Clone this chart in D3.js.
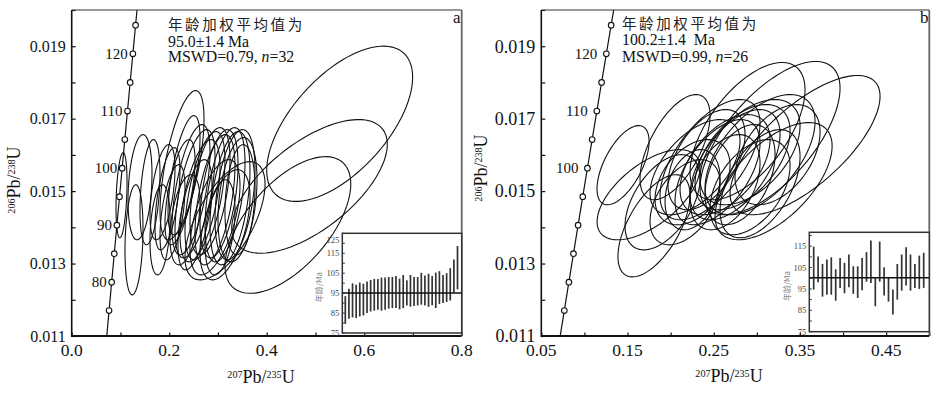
<!DOCTYPE html>
<html>
<head>
<meta charset="utf-8">
<script src="https://cdn.jsdelivr.net/npm/d3@7.9.0/dist/d3.min.js"></script>
<style>
  body { margin: 0; background: #fff; }
  svg { display: block; font-family: "Liberation Serif", "Times New Roman", serif; }
  .cjk { font-family: "Noto Sans CJK SC", sans-serif; }
</style>
</head>
<body>
<svg id="chart" width="947" height="394"></svg>
<script>
// ============= DATA ==================

// concordia: ages (Ma) with 207Pb/235U and 206Pb/238U
const concAges = [70, 75, 80, 85, 90, 95, 100, 105, 110, 115, 120, 125, 130];
const concX = [0.071371, 0.076660, 0.081975, 0.087316, 0.092683, 0.098077, 0.103498, 0.108945, 0.114419, 0.119920, 0.125447, 0.131001, 0.136588];
const concY = [0.010918, 0.011702, 0.012487, 0.013273, 0.014059, 0.014846, 0.015633, 0.016422, 0.017210, 0.018000, 0.018789, 0.019580, 0.020371];
const concMarks = [75, 80, 85, 90, 95, 100, 105, 110, 115, 120, 125];
const concLabelsA = [80, 90, 100, 110, 120];
const concLabelsB = [100, 110, 120];

// axis ticks
const xTicksA = [0, 0.1, 0.2, 0.3, 0.4, 0.5, 0.6, 0.7, 0.8];
const xLabelsA = [0, 0.2, 0.4, 0.6, 0.8];
const xTicksB = [0.05, 0.10, 0.15, 0.20, 0.25, 0.30, 0.35, 0.40, 0.45, 0.50];
const xLabelsB = [0.05, 0.15, 0.25, 0.35, 0.45];
const yTicks = [0.011, 0.012, 0.013, 0.014, 0.015, 0.016, 0.017, 0.018, 0.019, 0.020];
const yLabels = [0.011, 0.013, 0.015, 0.017, 0.019];

// panel a error ellipses: centre, half-extent (x, y), correlation
const ellA_cx = [0.1022, 0.1401, 0.1278, 0.1606, 0.1863, 0.1965, 0.2263, 0.2222, 0.2304, 0.2068, 0.2447, 0.2529, 0.2632, 0.2529, 0.2734, 0.2837, 0.2939, 0.3022, 0.3145, 0.3247, 0.3350, 0.3401, 0.2939, 0.3145, 0.3145, 0.3042, 0.1811, 0.2324, 0.3452, 0.5497, 0.4878, 0.4435];
const ellA_sx = [0.0113, 0.0246, 0.0185, 0.0205, 0.0256, 0.0256, 0.0451, 0.0308, 0.0328, 0.0256, 0.0390, 0.0410, 0.0410, 0.0349, 0.0410, 0.0410, 0.0410, 0.0390, 0.0410, 0.0410, 0.0410, 0.0400, 0.0513, 0.0821, 0.0513, 0.0308, 0.0205, 0.0308, 0.0308, 0.1497, 0.1596, 0.1290];
const ellA_cy = [0.014887, 0.015108, 0.013656, 0.014970, 0.014970, 0.014790, 0.015716, 0.014970, 0.015440, 0.014416, 0.015039, 0.014928, 0.014734, 0.014347, 0.014873, 0.014997, 0.014762, 0.014928, 0.014900, 0.014804, 0.014900, 0.014762, 0.014278, 0.014181, 0.014071, 0.014001, 0.013932, 0.014209, 0.014762, 0.016859, 0.015130, 0.014065];
const ellA_sy = [0.001176, 0.001452, 0.001521, 0.001452, 0.001314, 0.001411, 0.002061, 0.001452, 0.001646, 0.001314, 0.001798, 0.001770, 0.001687, 0.001521, 0.001770, 0.001757, 0.001798, 0.001770, 0.001853, 0.001840, 0.001798, 0.001715, 0.001591, 0.001632, 0.001521, 0.001314, 0.001245, 0.001245, 0.001521, 0.002144, 0.001845, 0.001887];
const ellA_rho = [0.3, 0.25, 0.2, 0.35, 0.5, 0.55, 0.62, 0.6, 0.62, 0.5, 0.58, 0.58, 0.55, 0.55, 0.55, 0.5, 0.52, 0.45, 0.48, 0.42, 0.38, 0.32, 0.55, 0.62, 0.5, 0.35, 0.25, 0.4, 0.22, 0.6, 0.63, 0.6];

// panel b error ellipses
const ellB_cx = [0.1448, 0.1744, 0.1807, 0.1906, 0.2051, 0.2283, 0.2254, 0.2457, 0.2416, 0.2544, 0.2631, 0.2747, 0.2834, 0.2921, 0.2805, 0.3037, 0.3153, 0.2892, 0.3559, 0.3194, 0.3037, 0.2921, 0.2254, 0.3240, 0.2631, 0.2167];
const ellB_sx = [0.0302, 0.0597, 0.0418, 0.0435, 0.0406, 0.0522, 0.0435, 0.0580, 0.0447, 0.0493, 0.0522, 0.0522, 0.0551, 0.0580, 0.0406, 0.0638, 0.0812, 0.0667, 0.0870, 0.0679, 0.0464, 0.0464, 0.0319, 0.0493, 0.0406, 0.0406];
const ellB_cy = [0.015716, 0.014900, 0.014043, 0.014693, 0.016214, 0.015661, 0.015246, 0.015869, 0.015869, 0.015523, 0.015730, 0.015730, 0.015938, 0.016076, 0.015454, 0.016007, 0.016463, 0.016657, 0.016270, 0.015274, 0.015205, 0.015108, 0.015039, 0.016007, 0.015246, 0.014693];
const ellB_sy = [0.001093, 0.001245, 0.001411, 0.001314, 0.001452, 0.001314, 0.001176, 0.001660, 0.001383, 0.001452, 0.001383, 0.001521, 0.001452, 0.001452, 0.001383, 0.001660, 0.002116, 0.001895, 0.001923, 0.001618, 0.001494, 0.001314, 0.001107, 0.001383, 0.001314, 0.001176];
const ellB_rho = [0.6, 0.6, 0.6, 0.5, 0.6, 0.55, 0.4, 0.6, 0.5, 0.55, 0.5, 0.55, 0.5, 0.5, 0.4, 0.55, 0.65, 0.6, 0.7, 0.6, 0.5, 0.45, 0.3, 0.45, 0.4, 0.45];

// inset age bars (Ma)
const agesA_lo = [79.6, 82.1, 82.8, 82.5, 83.3, 83.8, 85.0, 85.8, 86.2, 86.7, 86.2, 86.7, 87.2, 87.5, 87.5, 86.9, 87.5, 88.8, 88.2, 88.6, 88.8, 89.2, 88.8, 88.1, 88.9, 87.5, 89.6, 90.0, 90.6, 91.3, 95.2, 96.9];
const agesA_hi = [93.5, 97.2, 99.9, 99.2, 100.3, 99.7, 100.8, 101.6, 102.1, 102.1, 102.8, 102.8, 103.1, 103.1, 103.6, 102.3, 104.1, 101.4, 104.1, 103.1, 103.1, 105.2, 103.8, 104.7, 103.6, 105.3, 106.0, 104.1, 105.0, 107.5, 111.8, 118.6];
const agesB_lo = [94.7, 98.1, 91.4, 92.3, 92.3, 89.5, 95.5, 93.0, 95.8, 92.7, 90.8, 94.4, 98.4, 97.8, 86.9, 98.4, 91.9, 89.1, 83.0, 90.0, 94.2, 96.6, 94.2, 95.5, 95.0, 95.5];
const agesB_hi = [114.8, 110.2, 106.7, 108.8, 109.8, 104.2, 109.5, 107.2, 111.1, 105.6, 105.6, 109.5, 112.2, 117.7, 100.0, 117.2, 105.2, 100.5, 94.7, 106.7, 111.1, 114.5, 111.1, 106.7, 110.6, 111.9];
const insetTicksA = [75, 80, 85, 90, 95, 100, 105, 110, 115, 120, 125];
const insetLabelsA = [75, 85, 95, 105, 115, 125];
const insetTicksB = [75, 80, 85, 90, 95, 100, 105, 110, 115, 120];
const insetLabelsB = [75, 85, 95, 105, 115];

// weighted means
const meanA = 95.0, errA = 1.4, mswdA = 0.79, nA = 32;
const meanB = 100.2, errB = 1.4, mswdB = 0.99, nB = 26;

const zip = (cx, sx, cy, sy, rho) => cx.map((v, i) => ({ cx: v, sx: sx[i], cy: cy[i], sy: sy[i], rho: rho[i] }));
const conc = concAges.map((t, i) => ({ t, x: concX[i], y: concY[i] }));

// ============= LAYOUT ==================

const panels = [
  {
    key: "a", l: 71.7, r: 461.7, t: 10, b: 336,
    xDomain: [0, 0.8], xTicks: xTicksA, xLabels: xLabelsA, xFmt: d3.format(".1f"), yFont: 16,
    ells: zip(ellA_cx, ellA_sx, ellA_cy, ellA_sy, ellA_rho),
    concLabels: concLabelsA, concGap: 5,
    text: { x: 168, y: [30, 46.5, 62], age: `${meanA.toFixed(1)}±${errA} Ma`, mswd: mswdA, n: nA },
    letterX: 453, xTitle: { x: 261, y: 383 }, yTitle: { x: 20, y: 180 },
    inset: { l: 342.3, r: 461.7, t: 233.3, b: 333, x0: 345.3, x1: 457.5, yDomain: [75, 125],
      lo: agesA_lo, hi: agesA_hi, mean: meanA, ticks: insetTicksA, labels: insetLabelsA, titleX: 322 }
  },
  {
    key: "b", l: 541.3, r: 929.3, t: 10, b: 336,
    xDomain: [0.05, 0.5], xTicks: xTicksB, xLabels: xLabelsB, xFmt: d3.format(".2f"), yFont: 18,
    ells: zip(ellB_cx, ellB_sx, ellB_cy, ellB_sy, ellB_rho),
    concLabels: concLabelsB, concGap: 9,
    text: { x: 622, y: [28.5, 45, 62], age: `${meanB.toFixed(1)}±${errB}  Ma`, mswd: mswdB, n: nB },
    letterX: 920, xTitle: { x: 729, y: 382 }, yTitle: { x: 487, y: 168 },
    inset: { l: 809.3, r: 929.3, t: 232.3, b: 331.7, x0: 813.7, x1: 923.7, yDomain: [75, 121.5],
      lo: agesB_lo, hi: agesB_hi, mean: meanB, ticks: insetTicksB, labels: insetLabelsB, titleX: 790 }
  }
];

const svg = d3.select("#chart");
const ink = "#111";

function ratioTitle(sel, top, bottom, size) {
  sel.append("tspan").attr("font-size", size * 0.56).attr("baseline-shift", "super").text(top);
  sel.append("tspan").attr("font-size", size).text("Pb/");
  sel.append("tspan").attr("font-size", size * 0.56).attr("baseline-shift", "super").text(bottom);
  sel.append("tspan").attr("font-size", size).text("U");
}

function buildPanel(p) {
  const g = svg.append("g");
  const x = d3.scaleLinear().domain(p.xDomain).range([p.l, p.r]);
  const y = d3.scaleLinear().domain([0.011, 0.020]).range([p.b, p.t]);

  const clipId = "clip-" + p.key;
  svg.append("clipPath").attr("id", clipId)
    .append("rect").attr("x", p.l).attr("y", p.t).attr("width", p.r - p.l).attr("height", p.b - p.t);

  // ellipses
  const ellLine = d3.line().curve(d3.curveLinearClosed);
  const angles = d3.range(0, 360, 4).map(a => a * Math.PI / 180);
  g.append("g").attr("clip-path", `url(#${clipId})`)
    .selectAll("path").data(p.ells).join("path")
    .attr("d", d => {
      const k = Math.sqrt(1 - d.rho * d.rho);
      return ellLine(angles.map(a => [
        x(d.cx + d.sx * Math.cos(a)),
        y(d.cy + d.sy * (d.rho * Math.cos(a) + k * Math.sin(a)))
      ]));
    })
    .attr("fill", "none").attr("stroke", ink).attr("stroke-width", 1.1);

  // concordia
  g.append("path").datum(conc).attr("clip-path", `url(#${clipId})`)
    .attr("d", d3.line().x(d => x(d.x)).y(d => y(d.y)).curve(d3.curveMonotoneY))
    .attr("fill", "none").attr("stroke", ink).attr("stroke-width", 1.2);
  const marks = conc.filter(d => concMarks.includes(d.t));
  g.selectAll(".cm").data(marks).join("circle")
    .attr("cx", d => x(d.x)).attr("cy", d => y(d.y)).attr("r", 2.8)
    .attr("fill", "#fff").attr("stroke", ink).attr("stroke-width", 1.1);
  g.selectAll(".cl").data(marks.filter(d => p.concLabels.includes(d.t))).join("text")
    .attr("x", d => x(d.x) - p.concGap).attr("y", d => y(d.y)).attr("dy", "0.35em")
    .attr("text-anchor", "end").attr("font-size", 15).attr("fill", ink).text(d => d.t);

  // axes ticks (inward)
  const xa = g.append("g").attr("transform", `translate(0,${p.b})`)
    .call(d3.axisBottom(x).tickValues(p.xTicks).tickSize(-3.5).tickSizeOuter(0).tickFormat(""));
  xa.select(".domain").remove();
  xa.selectAll("line").attr("stroke", ink).attr("stroke-width", 1.2);
  const ya = g.append("g").attr("transform", `translate(${p.l},0)`)
    .call(d3.axisLeft(y).tickValues(yTicks).tickSize(-4).tickSizeOuter(0).tickFormat(""));
  ya.select(".domain").remove();
  ya.selectAll("line").attr("stroke", ink).attr("stroke-width", 1.2);

  // frame
  g.append("line").attr("x1", p.l).attr("x2", p.r).attr("y1", p.t).attr("y2", p.t).attr("stroke", "#333").attr("stroke-width", 1);
  g.append("line").attr("x1", p.r).attr("x2", p.r).attr("y1", p.t).attr("y2", p.b).attr("stroke", "#666").attr("stroke-width", 1.8);
  g.append("line").attr("x1", p.l).attr("x2", p.l).attr("y1", p.t).attr("y2", p.b + 1).attr("stroke", ink).attr("stroke-width", 1.6);
  g.append("line").attr("x1", p.l).attr("x2", p.r).attr("y1", p.b).attr("y2", p.b).attr("stroke", ink).attr("stroke-width", 2);

  // tick labels
  g.selectAll(".xl").data(p.xLabels).join("text")
    .attr("x", d => x(d)).attr("y", p.b + 20).attr("text-anchor", "middle")
    .attr("font-size", 17.5).attr("fill", ink).text(p.xFmt);
  g.selectAll(".yl").data(yLabels).join("text")
    .attr("x", p.l - 6).attr("y", d => y(d)).attr("dy", "0.35em").attr("text-anchor", "end")
    .attr("font-size", p.yFont).attr("fill", ink).text(d3.format(".3f"));

  // axis titles
  const xt = g.append("text").attr("x", p.xTitle.x).attr("y", p.xTitle.y).attr("text-anchor", "middle").attr("fill", ink);
  ratioTitle(xt, "207", "235", 18);
  const yt = g.append("text").attr("transform", `translate(${p.yTitle.x},${p.yTitle.y}) rotate(-90)`)
    .attr("text-anchor", "middle").attr("fill", ink);
  ratioTitle(yt, "206", "238", 18);

  // annotation
  g.append("text").attr("class", "cjk").attr("x", p.text.x).attr("y", p.text.y[0])
    .attr("font-size", 14.5).attr("letter-spacing", 2.6).attr("fill", "#222").text("年龄加权平均值为");
  g.append("text").attr("x", p.text.x).attr("y", p.text.y[1]).attr("font-size", 15.8).attr("fill", ink)
    .style("white-space", "pre").text(p.text.age);
  const ms = g.append("text").attr("x", p.text.x).attr("y", p.text.y[2]).attr("font-size", 15.8).attr("fill", ink);
  ms.append("tspan").text(`MSWD=${p.text.mswd.toFixed(2)}, `);
  ms.append("tspan").attr("font-style", "italic").text("n");
  ms.append("tspan").text(`=${p.text.n}`);
  g.append("text").attr("x", p.letterX).attr("y", 23).attr("font-size", 17).attr("fill", ink).text(p.key);

  // inset
  const ins = p.inset;
  const ig = g.append("g");
  ig.append("rect").attr("x", ins.l).attr("y", ins.t).attr("width", ins.r - ins.l).attr("height", ins.b - ins.t)
    .attr("fill", "#fff").attr("stroke", "#333").attr("stroke-width", 1.5);
  const bars = ins.lo.map((v, i) => ({ i, lo: v, hi: ins.hi[i] }));
  const bx = d3.scalePoint().domain(bars.map(d => d.i)).range([ins.x0, ins.x1]);
  const by = d3.scaleLinear().domain(ins.yDomain).range([ins.b, ins.t]);
  ig.selectAll(".bar").data(bars).join("line")
    .attr("x1", d => bx(d.i)).attr("x2", d => bx(d.i))
    .attr("y1", d => by(d.lo)).attr("y2", d => by(d.hi))
    .attr("stroke", "#333").attr("stroke-width", 1.7);
  ig.append("line").attr("x1", ins.l).attr("x2", ins.r).attr("y1", by(ins.mean)).attr("y2", by(ins.mean))
    .attr("stroke", ink).attr("stroke-width", 1.5);
  ig.selectAll(".it").data(ins.ticks).join("line")
    .attr("x1", ins.l).attr("x2", ins.l + 2.5).attr("y1", d => by(d)).attr("y2", d => by(d))
    .attr("stroke", "#333").attr("stroke-width", 1);
  ig.selectAll(".il").data(ins.labels).join("text")
    .attr("x", ins.l - 3).attr("y", d => Math.max(by(d), ins.t + 7)).attr("dy", "0.35em")
    .attr("text-anchor", "end").attr("font-size", 8.5).attr("fill", "#444").text(d => d);
  ig.append("text").attr("class", "cjk")
    .attr("transform", `translate(${ins.titleX},${(ins.t + ins.b) / 2 + 4}) rotate(-90)`)
    .attr("text-anchor", "middle").attr("font-size", 8).attr("fill", "#888").text("年龄/Ma");
}

panels.forEach(buildPanel);
</script>
</body>
</html>
